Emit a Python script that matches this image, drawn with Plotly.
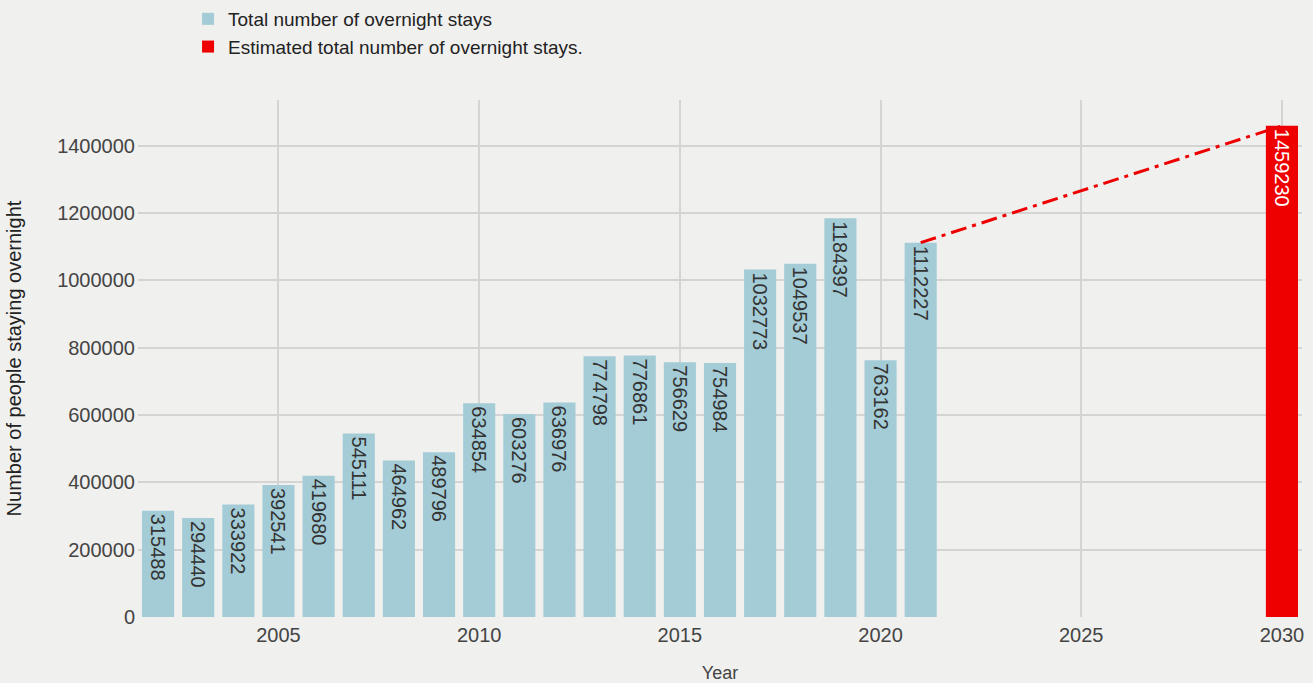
import plotly.graph_objects as go

years = list(range(2002, 2022))
stays = [315488, 294440, 333922, 392541, 419680, 545111, 464962, 489796, 634854, 603276,
         636976, 774798, 776861, 756629, 754984, 1032773, 1049537, 1184397, 763162, 1112227]
est_year = [2030]
est_stays = [1459230]
y_ticks = [0, 200000, 400000, 600000, 800000, 1000000, 1200000, 1400000]
x_ticks = [2005, 2010, 2015, 2020, 2025, 2030]

blue = "#a3ccd6"
red = "#ee0000"
FONT = "Liberation Sans, Arial, sans-serif"

fig = go.Figure()
fig.add_trace(go.Bar(
    x=years, y=stays, name="Total number of overnight stays",
    marker=dict(color=blue, line=dict(width=0)), width=0.8,
    text=[str(v) for v in stays], textposition="inside", insidetextanchor="end",
    textangle=90, constraintext="none",
    textfont=dict(size=20, color="#333333", family=FONT),
))
fig.add_trace(go.Bar(
    x=est_year, y=est_stays, name="Estimated total number of overnight stays.",
    marker=dict(color=red, line=dict(width=0)), width=0.8,
    text=[str(v) for v in est_stays], textposition="inside", insidetextanchor="end",
    textangle=90, constraintext="none",
    textfont=dict(size=20, color="#ffffff", family=FONT),
))
fig.add_trace(go.Scatter(
    x=[years[-1], est_year[0]], y=[stays[-1], est_stays[0]], mode="lines",
    line=dict(color=red, width=3, dash="16px,6px,4px,6px"), showlegend=False, hoverinfo="skip",
))

fig.update_layout(
    width=1313, height=683,
    margin=dict(l=138, r=11, t=100, b=66),
    paper_bgcolor="#f0f0ef", plot_bgcolor="#f0f0ef",
    font=dict(family=FONT, size=19, color="#444444"),
    barmode="overlay",
    legend=dict(xref="paper", yref="container", x=0.043, y=1.0,
                xanchor="left", yanchor="top",
                font=dict(size=19, color="#222222"), bgcolor="rgba(0,0,0,0)",
                tracegroupgap=0),
    xaxis=dict(range=[2001.5, 2030.5], tickvals=x_ticks,
               showgrid=True, gridcolor="#d4d4d4", gridwidth=1.5, zeroline=False,
               showline=False, ticks="", ticklabelstandoff=4, automargin=False,
               tickfont=dict(size=20, color="#444444"),
               title=dict(text="Year", font=dict(size=18, color="#444444"), standoff=22)),
    yaxis=dict(range=[0, 1536000], tickvals=y_ticks,
               ticktext=[str(v) for v in y_ticks],
               showgrid=True, gridcolor="#d4d4d4", gridwidth=1.5, zeroline=False,
               showline=False, ticks="", ticklabelstandoff=2, automargin=False,
               tickfont=dict(size=20, color="#444444"),
               title=dict(text="Number of people staying overnight", font=dict(size=20, color="#222222"), standoff=30)),
)

fig.write_html("out.html", config={"displayModeBar": False})
with open("out.html", "r", encoding="utf-8") as f:
    html = f.read()
html = html.replace("<head>", "<head><style>html,body{margin:0;padding:0;overflow:hidden;}</style>", 1)
with open("out.html", "w", encoding="utf-8") as f:
    f.write(html)
